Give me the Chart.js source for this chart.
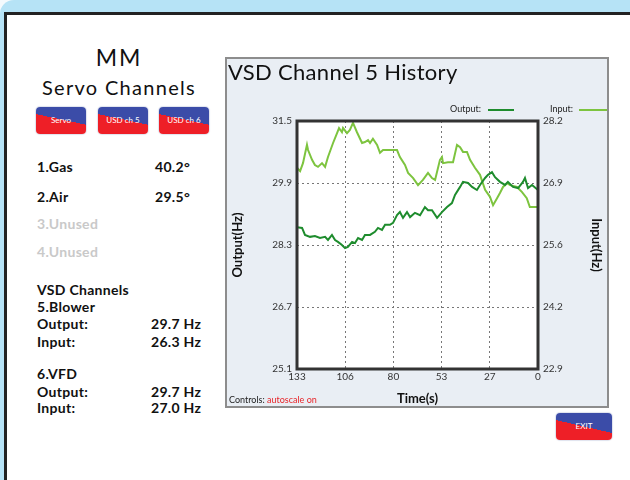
<!DOCTYPE html>
<html>
<head>
<meta charset="utf-8">
<script src="https://cdn.jsdelivr.net/npm/chart.js@4.4.0/dist/chart.umd.min.js"></script>
<style>
  body { margin: 0; width: 630px; height: 480px; overflow: hidden; background: #f4fafd; position: relative; font-family: Lato, "Open Sans", sans-serif; color: #111; }
  .win { position: absolute; left: 0; top: 0; width: 660px; height: 500px; background: #b6e3f6; border-top-left-radius: 14px; }
  .inner { position: absolute; left: 4px; top: 12px; width: 660px; height: 500px; background: #fff; border-left: 3px solid #222; border-top: 3px solid #222; }
  .t { position: absolute; line-height: 1; white-space: nowrap; }
  .b { font-weight: bold; font-size: 14px; letter-spacing: 0.3px; }
  .off { color: #c9c9c9; }
  .btn { position: absolute; top: 107px; width: 50px; height: 27px; border-radius: 4px; color: #fff; font-size: 8px; text-align: center; line-height: 27px; background: linear-gradient(192deg, #3b4ca8 47%, #ee1f27 47%); box-shadow: 0 0 1px 1px #dfe3ee; }
  .panel { position: absolute; left: 225px; top: 57px; width: 384px; height: 351px; box-sizing: border-box; border: 2px solid #8d8d8d; background: #e9eef4; }
  canvas { position: absolute; left: 226px; top: 57px; }
  .leg { position: absolute; height: 2px; top: 109px; }
</style>
</head>
<body>
<div class="win"></div>
<div class="inner"></div>

<div class="t" style="left:60px;width:118px;text-align:center;top:46px;font-size:23px;letter-spacing:2px;">MM</div>
<div class="t" style="left:20px;width:198px;text-align:center;top:77px;font-size:20px;letter-spacing:1.3px;">Servo Channels</div>
<div class="btn" style="left:36px;">Servo</div>
<div class="btn" style="left:98px;">USD ch 5</div>
<div class="btn" style="left:159px;">USD ch 6</div>

<div class="t b" style="left:37px;top:160px;">1.Gas</div>
<div class="t b" style="left:155px;top:160px;">40.2°</div>
<div class="t b" style="left:37px;top:190px;">2.Air</div>
<div class="t b" style="left:155px;top:190px;">29.5°</div>
<div class="t b off" style="left:37px;top:217px;">3.Unused</div>
<div class="t b off" style="left:37px;top:245px;">4.Unused</div>
<div class="t b" style="left:37px;top:283px;">VSD Channels</div>
<div class="t b" style="left:37px;top:300px;">5.Blower</div>
<div class="t b" style="left:37px;top:317px;">Output:</div>
<div class="t b" style="left:151px;top:317px;">29.7 Hz</div>
<div class="t b" style="left:37px;top:335px;">Input:</div>
<div class="t b" style="left:151px;top:335px;">26.3 Hz</div>
<div class="t b" style="left:37px;top:367px;">6.VFD</div>
<div class="t b" style="left:37px;top:385px;">Output:</div>
<div class="t b" style="left:151px;top:385px;">29.7 Hz</div>
<div class="t b" style="left:37px;top:401px;">Input:</div>
<div class="t b" style="left:151px;top:401px;">27.0 Hz</div>

<div class="panel"></div>
<canvas id="histChart" width="382" height="350"></canvas>
<div class="t" style="left:228px;top:61px;font-size:22px;letter-spacing:0.3px;">VSD Channel 5 History</div>
<div class="t" style="left:450px;top:104px;font-size:9px;color:#222;">Output:</div>
<div class="leg" style="left:488px;width:26px;background:#1e8c2d;"></div>
<div class="t" style="left:550px;top:104px;font-size:9px;color:#222;">Input:</div>
<div class="leg" style="left:579px;width:28px;background:#7dc43f;"></div>
<div class="t" style="left:229px;top:395px;font-size:9px;color:#222;">Controls: <span style="color:#e8262a;">autoscale on</span></div>

<div class="btn" style="left:556px;top:413px;width:56px;background:linear-gradient(193deg, #3b4ca8 50%, #ee1f27 50%);">EXIT</div>

<script>
// time axis runs from 133 s ago down to now
const xTickValues = [133, 106.4, 79.8, 53.2, 26.6, 0];
const xTickLabels = ['133', '106', '80', '53', '27', '0'];
const leftTickValues = [25.1, 26.7, 28.3, 29.9, 31.5];
const leftTickLabels = ['25.1', '26.7', '28.3', '29.9', '31.5'];
const rightTickValues = [22.9, 24.225, 25.55, 26.875, 28.2];
const rightTickLabels = ['22.9', '24.2', '25.6', '26.9', '28.2'];

const outputTimes = [133, 130.2, 128.6, 125.8, 123.1, 120.3, 117.5, 115.9, 113.7, 112.0, 110.4, 108.2, 106.5, 104.9, 102.6, 101.0, 99.3, 97.1, 95.5, 92.7, 90.0, 88.3, 86.1, 84.4, 81.7, 80.0, 77.8, 76.2, 74.5, 72.3, 70.6, 67.9, 65.1, 62.4, 60.7, 58.5, 55.7, 53.0, 50.2, 47.5, 45.8, 43.0, 41.4, 38.6, 36.4, 33.7, 32.0, 29.2, 27.6, 25.4, 23.7, 21.0, 18.2, 16.6, 13.8, 11.0, 8.3, 7.2, 5.5, 3.3, 0];
const outputValues = [28.76, 28.74, 28.56, 28.51, 28.53, 28.48, 28.51, 28.43, 28.56, 28.43, 28.38, 28.30, 28.22, 28.25, 28.38, 28.35, 28.48, 28.43, 28.56, 28.56, 28.64, 28.74, 28.69, 28.82, 28.82, 28.87, 29.07, 29.15, 29.00, 29.15, 29.02, 29.13, 29.07, 29.28, 29.20, 29.20, 29.00, 29.15, 29.28, 29.38, 29.59, 29.80, 29.93, 29.90, 29.80, 29.72, 29.85, 30.03, 30.11, 30.18, 30.05, 29.93, 29.85, 29.93, 29.80, 29.77, 29.93, 30.03, 29.77, 29.85, 29.72];

const inputTimes = [133, 131.3, 129.7, 127.5, 126.9, 124.7, 123.1, 121.4, 119.2, 117.5, 115.9, 113.1, 110.9, 109.8, 108.2, 107.6, 105.4, 103.8, 102.1, 99.9, 97.1, 95.5, 93.8, 92.7, 91.1, 88.8, 87.2, 85.5, 77.8, 76.2, 73.4, 71.7, 68.9, 66.2, 63.5, 60.7, 58.5, 56.8, 54.1, 53.0, 52.4, 49.7, 46.9, 44.7, 43.0, 41.4, 39.2, 37.5, 34.8, 32.0, 29.2, 26.5, 24.8, 22.6, 21.0, 19.3, 17.1, 15.4, 11.6, 8.8, 6.2, 4.5, 0];
const inputValues = [27.20, 27.13, 27.30, 27.69, 27.58, 27.37, 27.26, 27.22, 27.30, 27.22, 27.43, 27.73, 27.94, 28.05, 27.96, 28.05, 27.94, 28.01, 28.16, 27.96, 27.73, 27.75, 27.79, 27.73, 27.82, 27.69, 27.52, 27.58, 27.58, 27.43, 27.26, 27.09, 26.98, 26.83, 26.94, 27.09, 26.98, 26.94, 27.37, 27.43, 27.30, 27.32, 27.32, 27.69, 27.64, 27.54, 27.54, 27.37, 27.20, 27.05, 26.73, 26.58, 26.40, 26.55, 26.66, 26.79, 26.87, 26.83, 26.79, 26.68, 26.55, 26.36, 26.36];

Chart.defaults.font.family = 'Lato, "Open Sans", sans-serif';
Chart.defaults.color = '#333';

// white plot background and the heavy frame around it
const framePlugin = {
    id: 'frame',
    beforeDraw(chart) {
        const { ctx, chartArea: a } = chart;
        ctx.save();
        ctx.fillStyle = '#fff';
        ctx.fillRect(a.left, a.top, a.right - a.left, a.bottom - a.top);
        ctx.restore();
    },
    afterDatasetsDraw(chart) {
        const { ctx, chartArea: a } = chart;
        ctx.save();
        ctx.strokeStyle = '#333';
        ctx.lineWidth = 3;
        ctx.strokeRect(a.left, a.top, a.right - a.left, a.bottom - a.top);
        ctx.restore();
    }
};

function fixedTicks(values) {
    return function(scale) {
        scale.ticks = values.map(v => ({ value: v }));
    };
}

const ctx = document.getElementById('histChart').getContext('2d');
const histChart = new Chart(ctx, {
    type: 'line',
    data: {
        datasets: [
            {
                label: 'Output',
                data: outputTimes.map((t, i) => ({ x: t, y: outputValues[i] })),
                borderColor: '#1e8c2d',
                borderWidth: 2,
                pointRadius: 0,
                yAxisID: 'yL',
            },
            {
                label: 'Input',
                data: inputTimes.map((t, i) => ({ x: t, y: inputValues[i] })),
                borderColor: '#7dc43f',
                borderWidth: 2,
                pointRadius: 0,
                yAxisID: 'yR',
            },
        ],
    },
    options: {
        responsive: false,
        animation: false,
        devicePixelRatio: 1,
        layout: { padding: { top: 64 } },
        plugins: { legend: { display: false }, tooltip: { enabled: false } },
        scales: {
            x: {
                type: 'linear',
                reverse: true,
                min: 0,
                max: 133,
                afterBuildTicks: fixedTicks(xTickValues),
                afterFit: s => { s.height = 38; },
                ticks: { autoSkip: false, maxRotation: 0, padding: 2, font: { size: 10 }, callback: (v, i) => xTickLabels[i] },
                grid: { color: '#777', drawTicks: false },
                border: { display: false, dash: [2, 3] },
                title: { display: true, text: 'Time(s)', font: { size: 13, weight: 'bold' }, color: '#111', padding: { top: 0, bottom: 0 } },
            },
            yL: {
                position: 'left',
                min: 25.1,
                max: 31.5,
                afterBuildTicks: fixedTicks(leftTickValues),
                afterFit: s => { s.width = 71; },
                ticks: { padding: 5, font: { size: 10 }, callback: (v, i) => leftTickLabels[i] },
                grid: { color: '#777', drawTicks: false },
                border: { display: false, dash: [2, 3] },
                title: { display: true, text: 'Output(Hz)', font: { size: 13, weight: 'bold' }, color: '#111', padding: { top: 4, bottom: 0 } },
            },
            yR: {
                position: 'right',
                min: 22.9,
                max: 28.2,
                afterBuildTicks: fixedTicks(rightTickValues),
                afterFit: s => { s.width = 70; },
                ticks: { padding: 5, font: { size: 10 }, callback: (v, i) => rightTickLabels[i] },
                grid: { display: false, drawTicks: false },
                border: { display: false },
                title: { display: true, text: 'Input(Hz)', font: { size: 13, weight: 'bold' }, color: '#111', padding: { top: 4, bottom: 0 } },
            },
        },
    },
    plugins: [framePlugin],
});
</script>
</body>
</html>
